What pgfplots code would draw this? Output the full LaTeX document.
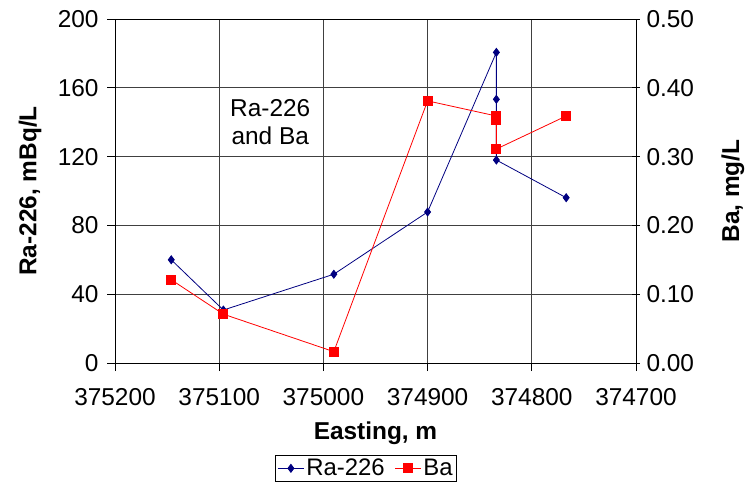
\documentclass[border=0pt]{standalone}
\usepackage{fontspec}
\setmainfont{Liberation Sans}
\usepackage{pgfplots}
\pgfplotsset{compat=1.18}
\definecolor{ranavy}{RGB}{0,0,128}
\definecolor{bared}{RGB}{255,0,0}
\begin{document}
\begin{tikzpicture}
\pgfplotsset{
  common/.style={
    scale only axis, width=521bp, height=344bp,
    x dir=reverse, xmin=374700, xmax=375200,
    xtick={374700,374800,374900,375000,375100,375200},
    font=\fontsize{24.5}{28}\selectfont,
    tick label style={font=\fontsize{24.5}{28}\selectfont},
    /pgf/number format/assume math mode=true,
    major tick length=8bp,
    tick style={black, line width=0.8pt},
    axis line style={black, line width=0.9pt},
    scaled ticks=false,
  }
}
\begin{axis}[common,
  ymin=0, ymax=200, ytick={0,40,80,120,160,200},
  xticklabel style={yshift=-14bp, /pgf/number format/fixed, /pgf/number format/1000 sep={}, /pgf/number format/precision=0},
  yticklabel style={xshift=-5bp, /pgf/number format/fixed, /pgf/number format/precision=0},
  tick align=outside, xtick pos=bottom, ytick pos=left,
  grid=major, grid style={black!75, line width=0.8pt},
  xlabel={\bfseries Easting, m},
  ylabel={\bfseries Ra-226, mBq/L},
  xlabel style={at={(axis description cs:0.5,-0.203)}, anchor=center},
  ylabel style={at={(axis description cs:-0.163,0.5)}, anchor=center, rotate=0},
]
\addplot[color=ranavy, line width=0.8pt, mark=diamond*, mark size=4bp, mark options={fill=ranavy, draw=ranavy}] coordinates {
(375146,60) (375096,30.8) (374990,51.6) (374900,87.8) (374834,180.6) (374834,153.3) (374834,118) (374767,96.1)
};
\node[align=center, font=\fontsize{24.5}{28}\selectfont] at (axis cs:375051,140) {Ra-226\\and Ba};
\end{axis}
\begin{axis}[common,
  ymin=0, ymax=0.5, ytick={0,0.1,0.2,0.3,0.4,0.5},
  axis x line=none, axis y line*=right,
  tick align=center,
  yticklabel style={xshift=3bp, /pgf/number format/fixed, /pgf/number format/fixed zerofill, /pgf/number format/precision=2},
  ylabel={\bfseries Ba, mg/L},
  ylabel style={at={(axis description cs:1.186,0.5)}, anchor=center, rotate=0},
  legend style={at={(axis description cs:0.482,-0.267)}, anchor=north, legend columns=2, draw=black, line width=0.8pt, font=\fontsize{24}{28}\selectfont, inner sep=2pt, /tikz/every even column/.append style={column sep=8bp}},
  legend image code/.code={\draw[mark repeat=2,mark phase=2] plot coordinates {(0bp,0bp) (13bp,0bp) (26bp,0bp)};},
  legend image post style={line width=0.8pt},
]
\coordinate (SW) at (rel axis cs:0,0);
\addlegendimage{color=ranavy, mark=diamond*, mark size=4bp, mark options={fill=ranavy}}
\addlegendentry{Ra-226}
\addplot[color=bared, line width=0.8pt, mark=square*, mark size=4.5bp, mark options={fill=bared, draw=bared}] coordinates {
(375146,0.121) (375096,0.071) (374990,0.0165) (374900,0.381) (374834,0.359) (374834,0.354) (374834,0.311) (374767,0.359)
};
\addlegendentry{Ba}
\end{axis}
\pgfresetboundingbox
\path[use as bounding box] ([xshift=-115bp,yshift=-121bp]SW) rectangle ([xshift=630bp,yshift=363bp]SW);
\end{tikzpicture}
\end{document}
